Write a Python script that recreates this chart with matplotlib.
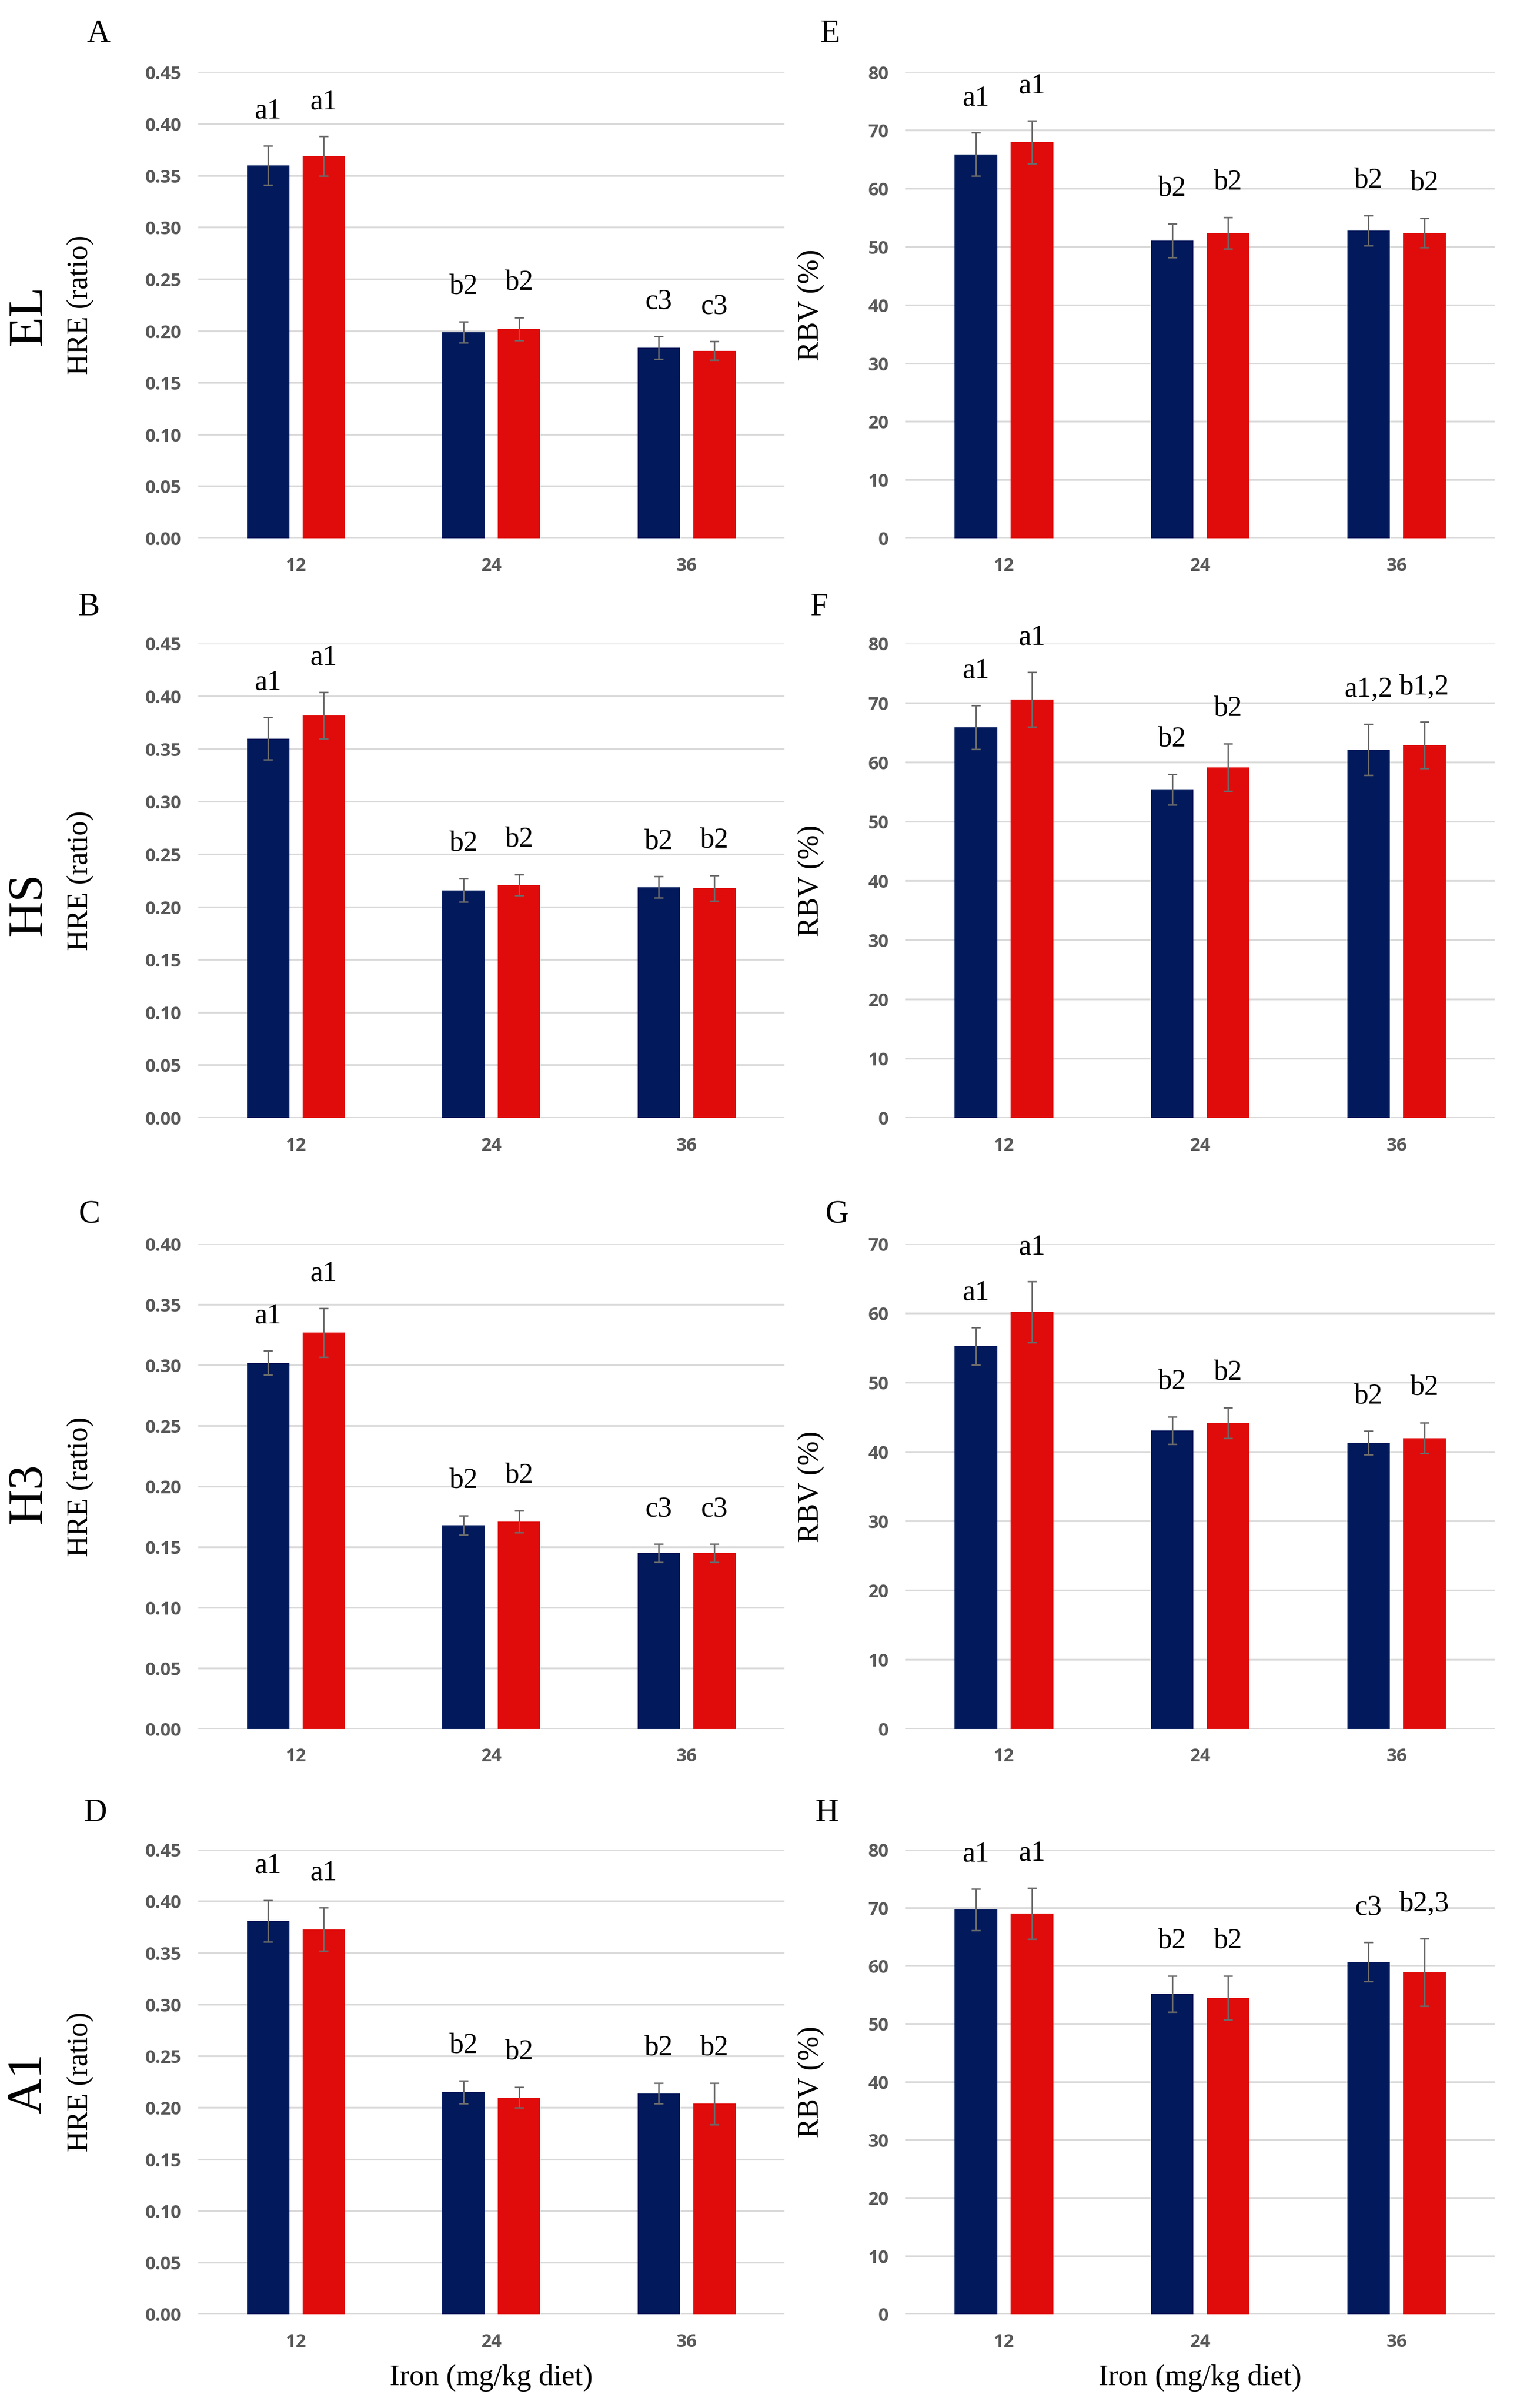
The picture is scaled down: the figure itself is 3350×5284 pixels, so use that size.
import numpy as np
import matplotlib
matplotlib.use("Agg")
import matplotlib.pyplot as plt
from matplotlib.ticker import FormatStrFormatter

# iron levels on the x axis
iron = ["12", "24", "36"]

# HRE (ratio) panels A-D, blue = first group, red = second group
el_hre_blue = [0.360, 0.199, 0.184]
el_hre_blue_sd = [0.019, 0.010, 0.011]
el_hre_red = [0.369, 0.202, 0.181]
el_hre_red_sd = [0.019, 0.011, 0.009]
el_hre_lbl_blue = ["a1", "b2", "c3"]
el_hre_lbl_red = ["a1", "b2", "c3"]

hs_hre_blue = [0.360, 0.216, 0.219]
hs_hre_blue_sd = [0.020, 0.011, 0.010]
hs_hre_red = [0.382, 0.221, 0.218]
hs_hre_red_sd = [0.022, 0.010, 0.012]
hs_hre_lbl_blue = ["a1", "b2", "b2"]
hs_hre_lbl_red = ["a1", "b2", "b2"]

h3_hre_blue = [0.302, 0.168, 0.145]
h3_hre_blue_sd = [0.010, 0.008, 0.0075]
h3_hre_red = [0.327, 0.171, 0.145]
h3_hre_red_sd = [0.020, 0.009, 0.0075]
h3_hre_lbl_blue = ["a1", "b2", "c3"]
h3_hre_lbl_red = ["a1", "b2", "c3"]

a1_hre_blue = [0.381, 0.215, 0.214]
a1_hre_blue_sd = [0.020, 0.011, 0.010]
a1_hre_red = [0.373, 0.210, 0.204]
a1_hre_red_sd = [0.021, 0.010, 0.020]
a1_hre_lbl_blue = ["a1", "b2", "b2"]
a1_hre_lbl_red = ["a1", "b2", "b2"]

# RBV (%) panels E-H
el_rbv_blue = [65.9, 51.1, 52.8]
el_rbv_blue_sd = [3.7, 2.9, 2.6]
el_rbv_red = [68.0, 52.4, 52.4]
el_rbv_red_sd = [3.7, 2.7, 2.5]
el_rbv_lbl_blue = ["a1", "b2", "b2"]
el_rbv_lbl_red = ["a1", "b2", "b2"]

hs_rbv_blue = [65.9, 55.4, 62.1]
hs_rbv_blue_sd = [3.7, 2.6, 4.3]
hs_rbv_red = [70.6, 59.1, 62.9]
hs_rbv_red_sd = [4.6, 4.0, 3.9]
hs_rbv_lbl_blue = ["a1", "b2", "a1,2"]
hs_rbv_lbl_red = ["a1", "b2", "b1,2"]

h3_rbv_blue = [55.3, 43.1, 41.3]
h3_rbv_blue_sd = [2.7, 2.0, 1.7]
h3_rbv_red = [60.2, 44.2, 42.0]
h3_rbv_red_sd = [4.4, 2.2, 2.2]
h3_rbv_lbl_blue = ["a1", "b2", "b2"]
h3_rbv_lbl_red = ["a1", "b2", "b2"]

a1_rbv_blue = [69.7, 55.2, 60.7]
a1_rbv_blue_sd = [3.6, 3.1, 3.4]
a1_rbv_red = [69.0, 54.5, 58.9]
a1_rbv_red_sd = [4.4, 3.8, 5.8]
a1_rbv_lbl_blue = ["a1", "b2", "c3"]
a1_rbv_lbl_red = ["a1", "b2", "b2,3"]

row_names = ["EL", "HS", "H3", "A1"]
left_letters = ["A", "B", "C", "D"]
right_letters = ["E", "F", "G", "H"]

BLUE = "#021a5c"
RED = "#e00c0c"
GRID = "#d9d9d9"
TICK = "#595959"
SERIF = ["Liberation Serif", "DejaVu Serif"]
SANS = ["Open Sans", "DejaVu Sans"]

# layout measured on a 993 x 1566 grid of the reference
W, H = 993.0, 1566.0
def box(x0, x1, ytop, ybot):
    return [x0 / W, 1 - ybot / H, (x1 - x0) / W, (ybot - ytop) / H]

rows_y = [(47, 350), (418.6, 727), (809.2, 1124.3), (1203, 1505)]
left_x = (129, 510)
right_x = (589, 972)

fig = plt.figure(figsize=(3350 / 300, 5284 / 300), dpi=300)


def draw_panel(ax, blue, blue_sd, red, red_sd, lbl_b, lbl_r, ymax, step, fmt, ylabel, ylab_x):
    x = np.arange(len(iron))
    w = 0.217
    off = 0.1425
    ax.set_axisbelow(True)
    ax.yaxis.grid(True, color=GRID, linewidth=0.9)
    ekw = dict(ecolor="#6b6b6b", elinewidth=0.8, capsize=2.5, capthick=0.8)
    ax.bar(x - off, blue, w, color=BLUE, yerr=blue_sd, error_kw=ekw, zorder=2)
    ax.bar(x + off, red, w, color=RED, yerr=red_sd, error_kw=ekw, zorder=2)
    for i in range(len(iron)):
        ax.annotate(lbl_b[i], (x[i] - off, blue[i] + blue_sd[i]), xytext=(0, 14.5),
                    textcoords="offset points", ha="center", va="baseline",
                    fontsize=15, family=SERIF, annotation_clip=False)
        ax.annotate(lbl_r[i], (x[i] + off, red[i] + red_sd[i]), xytext=(0, 14.5),
                    textcoords="offset points", ha="center", va="baseline",
                    fontsize=15, family=SERIF, annotation_clip=False)
    ax.set_xlim(-0.5, len(iron) - 0.5)
    ax.set_ylim(0, ymax)
    ax.set_yticks(np.arange(0, ymax + step / 2, step))
    ax.yaxis.set_major_formatter(FormatStrFormatter(fmt))
    ax.set_xticks(x)
    ax.set_xticklabels(iron)
    for s in ax.spines.values():
        s.set_visible(False)
    ax.tick_params(axis="both", length=0, labelsize=9.5, labelcolor=TICK)
    ax.tick_params(axis="y", pad=9)
    ax.tick_params(axis="x", pad=10)
    for t in ax.get_xticklabels() + ax.get_yticklabels():
        t.set_family(SANS)
        t.set_fontweight("bold")
    ax.set_ylabel(ylabel, fontsize=15.5, family=SERIF)
    ax.yaxis.set_label_coords(ylab_x, 0.5)


hre_sets = [
    (el_hre_blue, el_hre_blue_sd, el_hre_red, el_hre_red_sd, el_hre_lbl_blue, el_hre_lbl_red, 0.45),
    (hs_hre_blue, hs_hre_blue_sd, hs_hre_red, hs_hre_red_sd, hs_hre_lbl_blue, hs_hre_lbl_red, 0.45),
    (h3_hre_blue, h3_hre_blue_sd, h3_hre_red, h3_hre_red_sd, h3_hre_lbl_blue, h3_hre_lbl_red, 0.40),
    (a1_hre_blue, a1_hre_blue_sd, a1_hre_red, a1_hre_red_sd, a1_hre_lbl_blue, a1_hre_lbl_red, 0.45),
]
rbv_sets = [
    (el_rbv_blue, el_rbv_blue_sd, el_rbv_red, el_rbv_red_sd, el_rbv_lbl_blue, el_rbv_lbl_red, 80),
    (hs_rbv_blue, hs_rbv_blue_sd, hs_rbv_red, hs_rbv_red_sd, hs_rbv_lbl_blue, hs_rbv_lbl_red, 80),
    (h3_rbv_blue, h3_rbv_blue_sd, h3_rbv_red, h3_rbv_red_sd, h3_rbv_lbl_blue, h3_rbv_lbl_red, 70),
    (a1_rbv_blue, a1_rbv_blue_sd, a1_rbv_red, a1_rbv_red_sd, a1_rbv_lbl_blue, a1_rbv_lbl_red, 80),
]

for r in range(4):
    yt, yb = rows_y[r]
    axl = fig.add_axes(box(left_x[0], left_x[1], yt, yb))
    b, bs, rd, rs, lb, lr, ym = hre_sets[r]
    draw_panel(axl, b, bs, rd, rs, lb, lr, ym, 0.05, "%.2f", "HRE (ratio)", -0.178)

    axr = fig.add_axes(box(right_x[0], right_x[1], yt, yb))
    b, bs, rd, rs, lb, lr, ym = rbv_sets[r]
    draw_panel(axr, b, bs, rd, rs, lb, lr, ym, 10, "%d", "RBV (%)", -0.138)

    if r == 3:
        axl.set_xlabel("Iron (mg/kg diet)", fontsize=15.5, family=SERIF, labelpad=7)
        axr.set_xlabel("Iron (mg/kg diet)", fontsize=15.5, family=SERIF, labelpad=7)

# panel letters and row names
letter_y = [22, 395, 790, 1179]
left_lx = [64, 58, 58, 62]
right_lx = [540, 533, 544, 538]
name_y = [205, 588, 971, 1355]
for r in range(4):
    fig.text(left_lx[r] / W, 1 - letter_y[r] / H, left_letters[r], fontsize=17,
             family=SERIF, ha="center", va="center")
    fig.text(right_lx[r] / W, 1 - letter_y[r] / H, right_letters[r], fontsize=17,
             family=SERIF, ha="center", va="center")
    fig.text(19 / W, 1 - name_y[r] / H, row_names[r], fontsize=26, family=SERIF,
             rotation=90, ha="center", va="center")

fig.savefig("out.png", dpi=300, facecolor="white")
